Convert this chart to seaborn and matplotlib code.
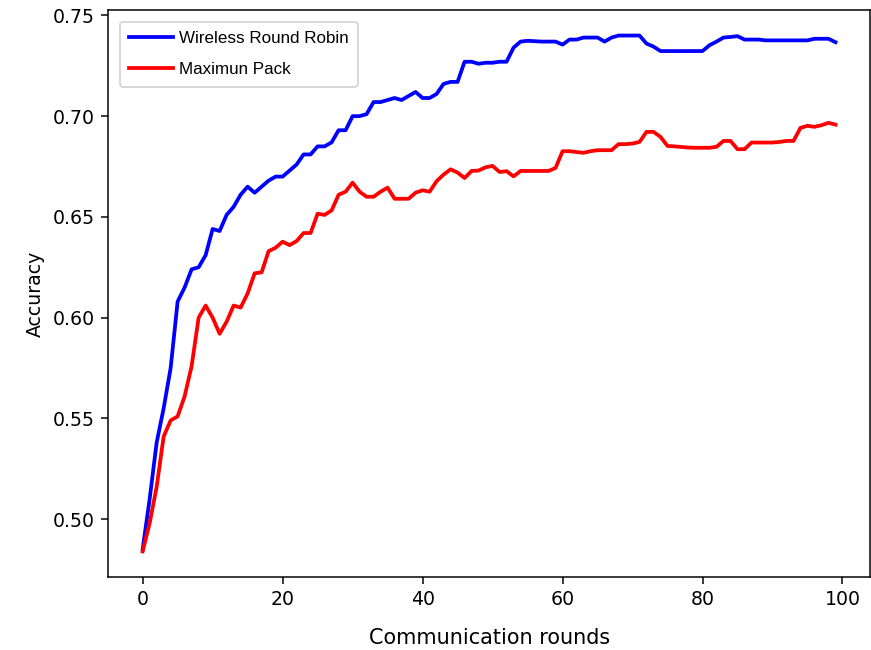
import pandas as pd
import matplotlib
matplotlib.use('Agg')
import matplotlib.pyplot as plt
import seaborn as sns

series_names = ['Wireless Round Robin', 'Maximun Pack']
series_colors = ['#0000ff', '#ff0000']

wrr_acc = [0.485, 0.510, 0.538, 0.555, 0.575, 0.608, 0.615, 0.624, 0.625, 0.631,
           0.644, 0.643, 0.651, 0.655, 0.661, 0.665, 0.662, 0.665, 0.668, 0.670,
           0.670, 0.673, 0.676, 0.681, 0.681, 0.685, 0.685, 0.687, 0.693, 0.693,
           0.700, 0.700, 0.701, 0.707, 0.707, 0.708, 0.709, 0.708, 0.710, 0.712,
           0.709, 0.709, 0.711, 0.716, 0.717, 0.717, 0.727, 0.727, 0.726, 0.7265,
           0.7265, 0.727, 0.727, 0.734, 0.737, 0.7374, 0.7372, 0.737, 0.737, 0.737,
           0.7355, 0.738, 0.738, 0.739, 0.739, 0.739, 0.737, 0.739, 0.740, 0.740,
           0.740, 0.740, 0.736, 0.7345, 0.7323, 0.7323, 0.7323, 0.7323, 0.7323, 0.7323,
           0.7323, 0.7352, 0.737, 0.739, 0.7393, 0.7397, 0.738, 0.738, 0.738, 0.7376,
           0.7376, 0.7376, 0.7376, 0.7376, 0.7376, 0.7376, 0.7384, 0.7384, 0.7384, 0.7367]

mp_acc = [0.484, 0.498, 0.516, 0.541, 0.549, 0.551, 0.561, 0.576, 0.600, 0.606,
          0.600, 0.592, 0.598, 0.606, 0.605, 0.612, 0.622, 0.6225, 0.633, 0.6347,
          0.6377, 0.636, 0.638, 0.642, 0.642, 0.6516, 0.651, 0.6532, 0.661, 0.6625,
          0.667, 0.6625, 0.660, 0.660, 0.6625, 0.6645, 0.659, 0.659, 0.659, 0.662,
          0.6632, 0.6625, 0.6677, 0.671, 0.6736, 0.672, 0.6693, 0.6728, 0.673, 0.6746,
          0.6753, 0.6723, 0.6727, 0.6701, 0.6728, 0.6728, 0.6728, 0.6728, 0.6728, 0.6743,
          0.6826, 0.6826, 0.6822, 0.6818, 0.6826, 0.6831, 0.6831, 0.6831, 0.6861, 0.6861,
          0.6864, 0.6872, 0.6922, 0.6922, 0.6897, 0.6852, 0.685, 0.6847, 0.6844, 0.6843,
          0.6843, 0.6843, 0.6848, 0.6877, 0.6877, 0.6836, 0.6836, 0.6869, 0.6869, 0.6869,
          0.6869, 0.6872, 0.6877, 0.6877, 0.6942, 0.6952, 0.6947, 0.6955, 0.6967, 0.6958]

rounds = list(range(len(wrr_acc)))

df = pd.concat([
    pd.DataFrame({'round': rounds, 'acc': wrr_acc, 'method': series_names[0]}),
    pd.DataFrame({'round': rounds, 'acc': mp_acc, 'method': series_names[1]}),
])

fig, ax = plt.subplots(figsize=(871 / 136, 650 / 136))
sns.lineplot(data=df, x='round', y='acc', hue='method', palette=series_colors,
             linewidth=2, ax=ax)

ax.set_xlabel('Communication rounds', fontsize=11, labelpad=10)
ax.set_ylabel('Accuracy', fontsize=10)
ax.tick_params(labelsize=10)
ax.legend(loc='upper left', prop={'family': 'Liberation Sans', 'size': 9},
          labelspacing=0.95, borderpad=0.55, borderaxespad=0.7,
          handlelength=2.6, handletextpad=0.3)

fig.subplots_adjust(left=0.124, right=0.999, bottom=0.112, top=0.985)
fig.savefig('out.png', dpi=136)
